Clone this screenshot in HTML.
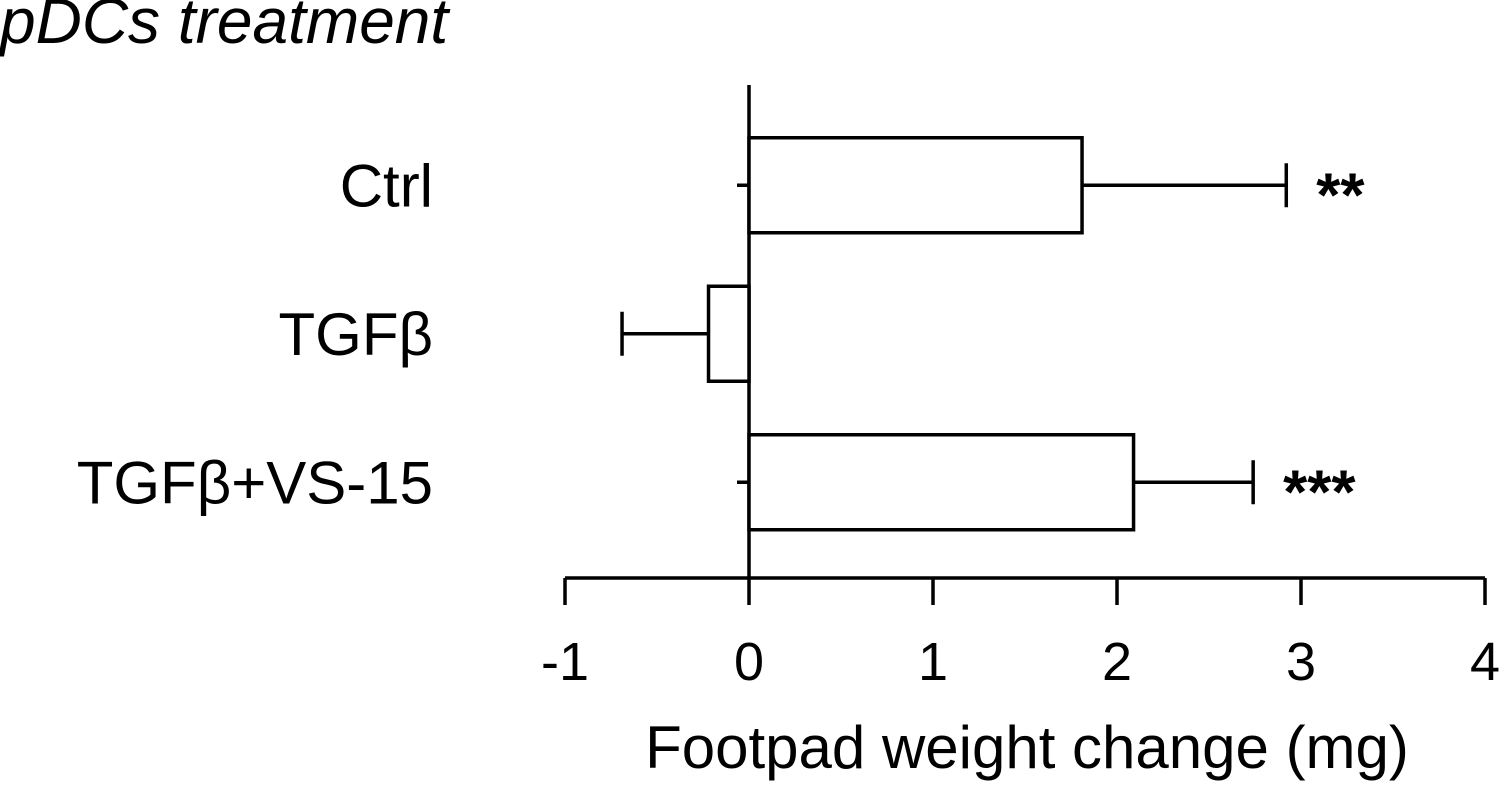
<!DOCTYPE html>
<html><head><meta charset="utf-8"><style>
html,body{margin:0;padding:0;background:#fff;}
svg{display:block;font-family:"Liberation Sans",Arial,sans-serif;}
</style></head><body>
<svg id="chart" width="1500" height="789" viewBox="0 0 1500 789">
<text x="0" y="43" font-size="64" font-style="italic">pDCs treatment</text>
<g id="plot"></g>
<text x="1027" y="768" font-size="60" text-anchor="middle">Footpad weight change (mg)</text>
</svg>
<script>
const categories = ["Ctrl", "TGFβ", "TGFβ+VS-15"];
const values = [1.81, -0.22, 2.09];
const errors = [1.11, 0.47, 0.65];
const stars = ["**", "", "***"];
const xTicks = [-1, 0, 1, 2, 3, 4];
const xTickLabels = ["-1", "0", "1", "2", "3", "4"];

const NS = "http://www.w3.org/2000/svg";
const g = document.getElementById("plot");
const x0 = 565, x1 = 1485, xmin = -1, xmax = 4;
const xs = v => x0 + (v - xmin) / (xmax - xmin) * (x1 - x0);
const yTop = 85, yBot = 578, bandStart = 111, band = 148.5, barH = 95;
const yc = i => bandStart + band * i + band / 2;
function el(tag, attrs, parent) {
  const e = document.createElementNS(NS, tag);
  for (const k in attrs) e.setAttribute(k, attrs[k]);
  (parent || g).appendChild(e);
  return e;
}
const S = {stroke: "#000", "stroke-width": 3.5, fill: "none"};
let xa = el("line", Object.assign({x1: x0, x2: x1, y1: yBot, y2: yBot}, S));


let ya = el("line", Object.assign({x1: xs(0), x2: xs(0), y1: yTop, y2: yBot}, S));


xTicks.forEach((t, i) => {
  const tk = el("line", Object.assign({x1: xs(t), x2: xs(t), y1: yBot, y2: yBot + 27}, S));
  
  
  const tl = el("text", {x: xs(t), y: 680, "font-size": 54, "text-anchor": "middle"});
  tl.textContent = xTickLabels[i];
  
  
});
categories.forEach((c, i) => {
  const y = yc(i), v = values[i];
  const tk = el("line", Object.assign({x1: xs(0) - 12, x2: xs(0), y1: y, y2: y}, S));
  
  
  const lab = el("text", {x: 433, y: y + 21, "font-size": 60, "text-anchor": "end"});
  lab.textContent = c;
  
  
  const xa_ = Math.min(xs(0), xs(v)), w = Math.abs(xs(v) - xs(0));
  const bar = el("rect", Object.assign({x: xa_, y: y - barH / 2, width: w, height: barH}, S, {fill: "#fff"}));
  
  
  const e = v + Math.sign(v) * errors[i];
  const eb = el("line", Object.assign({x1: xs(v), x2: xs(e), y1: y, y2: y}, S));
  
  
  const cap = el("line", Object.assign({x1: xs(e), x2: xs(e), y1: y - 22, y2: y + 22}, S));
  
  
  if (stars[i]) {
    const st = el("text", {x: xs(e) + 30, y: y + 31, "font-size": 62, "font-weight": "bold"});
    st.textContent = stars[i];
    
    
  }
});
</script>
</body></html>
